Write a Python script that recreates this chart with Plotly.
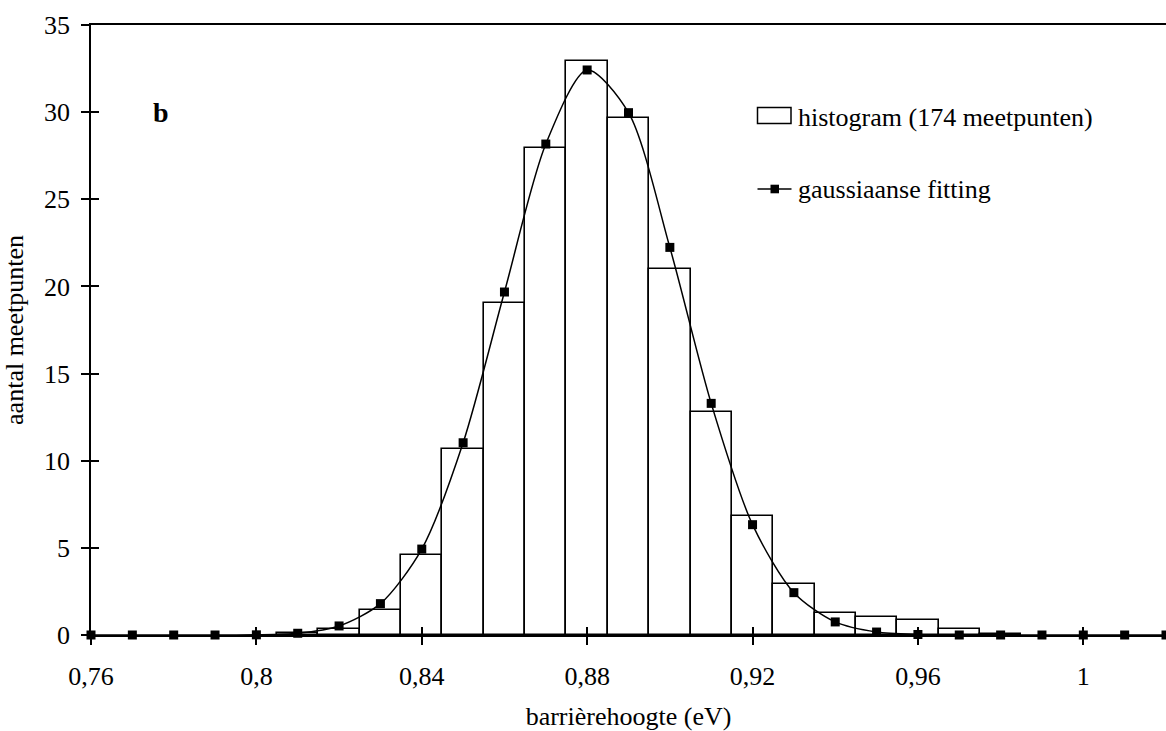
import plotly.graph_objects as go

# ---- data ----
bar_x = [0.81, 0.82, 0.83, 0.84, 0.85, 0.86, 0.87, 0.88, 0.89, 0.90,
         0.91, 0.92, 0.93, 0.94, 0.95, 0.96, 0.97, 0.98]
bar_counts = [0.1, 0.34, 1.42, 4.57, 10.67, 19.05, 27.94, 32.91, 29.66, 20.98,
              12.8, 6.85, 2.92, 1.24, 1.05, 0.84, 0.34, 0.06]

fit_x = [0.76, 0.77, 0.78, 0.79, 0.80, 0.81, 0.82, 0.83, 0.84, 0.85, 0.86,
         0.87, 0.88, 0.89, 0.90, 0.91, 0.92, 0.93, 0.94, 0.95, 0.96, 0.97,
         0.98, 0.99, 1.00, 1.01, 1.02]
fit_y = [0, 0, 0, 0, 0.01, 0.1, 0.52, 1.8, 4.93, 11.03, 19.68,
         28.17, 32.42, 29.97, 22.24, 13.29, 6.33, 2.43, 0.75, 0.17, 0.03, 0.0,
         0, 0, 0, 0, 0]

x_tick_vals = [0.76, 0.80, 0.84, 0.88, 0.92, 0.96, 1.00]
x_tick_text = ["0,76", "0,8", "0,84", "0,88", "0,92", "0,96", "1"]
y_tick_vals = [0, 5, 10, 15, 20, 25, 30, 35]

hist_label = "histogram (174 meetpunten)"
fit_label = "gaussiaanse fitting"
panel_label = "b"
x_title = "barrièrehoogte (eV)"
y_title = "aantal meetpunten"

FONT = "Liberation Serif, Times New Roman, serif"
FS = 26

W, H = 1166, 731
ML, MR, MT, MB = 91, 0, 25, 96
x_range = [0.76, 1.02]
y_range = [0, 35]

fig = go.Figure()
fig.add_trace(go.Bar(
    x=bar_x, y=bar_counts, width=0.01,
    marker=dict(color="white", line=dict(color="black", width=1.6)),
    showlegend=False, cliponaxis=False,
))
fig.add_trace(go.Scatter(
    x=fit_x, y=fit_y, mode="lines+markers",
    line=dict(color="black", width=1.5, shape="spline", smoothing=0.8),
    marker=dict(symbol="square", size=9, color="black"),
    showlegend=False, cliponaxis=False,
))
# invisible trace on overlay axes for crossing ticks
fig.add_trace(go.Scatter(x=[None], y=[None], xaxis="x2", yaxis="y2",
                         showlegend=False, hoverinfo="skip"))

axis_common = dict(showgrid=False, zeroline=False, linecolor="black",
                   linewidth=1.5, tickcolor="black", tickwidth=1.5)

fig.update_layout(
    width=W, height=H,
    margin=dict(l=ML, r=MR, t=MT, b=MB, pad=0),
    paper_bgcolor="white", plot_bgcolor="white",
    font=dict(family=FONT, size=FS, color="black"),
    bargap=0,
    xaxis=dict(range=x_range, tickvals=x_tick_vals, ticktext=x_tick_text,
               ticks="outside", ticklen=8, showline=True, mirror=True,
               ticklabelstandoff=9,
               title=dict(text=x_title, font=dict(size=FS), standoff=20),
               **axis_common),
    yaxis=dict(range=y_range, tickvals=y_tick_vals, ticks="outside", ticklen=8,
               showline=True, ticklabelstandoff=6,
               title=dict(text=y_title, font=dict(size=FS), standoff=14),
               **axis_common),
    xaxis2=dict(range=x_range, overlaying="x", anchor="y", tickvals=x_tick_vals,
                ticks="inside", ticklen=8, showticklabels=False, showline=False,
                showgrid=False, zeroline=False, tickcolor="black", tickwidth=1.5),
    yaxis2=dict(range=y_range, overlaying="y", anchor="x", tickvals=y_tick_vals,
                ticks="inside", ticklen=8, showticklabels=False, showline=False,
                showgrid=False, zeroline=False, tickcolor="black", tickwidth=1.5),
)

pw, ph = W - ML - MR, H - MT - MB
def px(xp):
    return (xp - ML) / pw
def py(yp):
    return (H - MB - yp) / ph

# panel label
fig.add_annotation(x=px(151), y=py(113), xref="paper", yref="paper",
                   text="<b>%s</b>" % panel_label, showarrow=False,
                   xanchor="left", yanchor="middle", font=dict(size=28))

# manual legend
fig.add_shape(type="rect", xref="paper", yref="paper",
              x0=px(757.5), x1=px(791), y0=py(123.5), y1=py(107.5),
              line=dict(color="black", width=1.5), fillcolor="white")
fig.add_annotation(x=px(796), y=py(117), xref="paper", yref="paper",
                   text=hist_label, showarrow=False, xanchor="left",
                   yanchor="middle", font=dict(size=FS))
fig.add_shape(type="line", xref="paper", yref="paper",
              x0=px(757.5), x1=px(791.5), y0=py(189), y1=py(189),
              line=dict(color="black", width=1.5))
fig.add_shape(type="rect", xref="paper", yref="paper",
              x0=px(770.5), x1=px(779), y0=py(193.3), y1=py(184.7),
              line=dict(color="black", width=0), fillcolor="black")
fig.add_annotation(x=px(796), y=py(189), xref="paper", yref="paper",
                   text=fit_label, showarrow=False, xanchor="left",
                   yanchor="middle", font=dict(size=FS))

fig.write_html("out.html")
